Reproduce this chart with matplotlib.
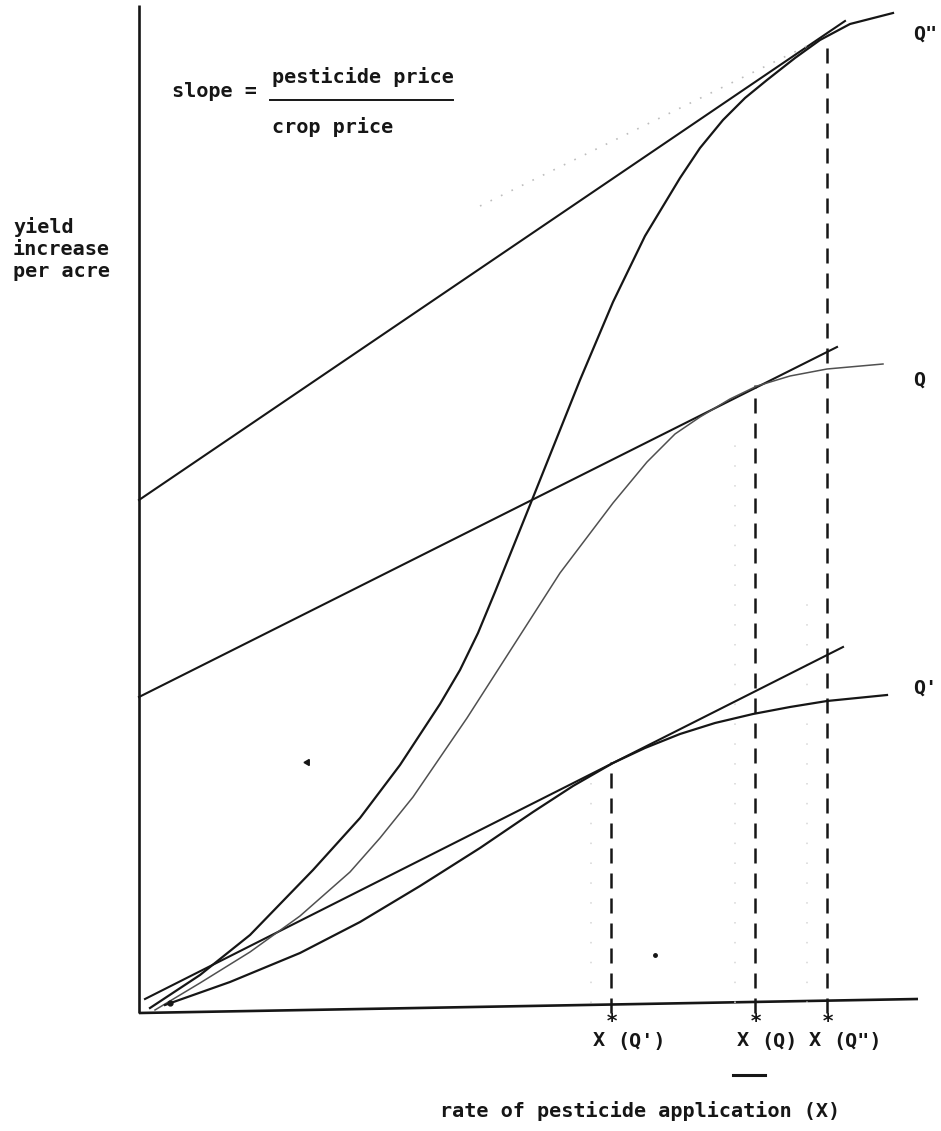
import matplotlib.pyplot as plt

# Yield response to pesticide: three response curves Q', Q, Q''
# (rate of pesticide on x, yield increase per acre on y, arbitrary units)
q2_rate = [0.11, 0.61, 1.11, 1.74, 2.21, 2.61, 3.01, 3.21, 3.39, 3.56, 3.91,
           4.41, 4.74, 5.06, 5.41, 5.61, 5.84, 6.06, 6.28, 6.56, 6.81, 7.11,
           7.54]
q2_yield = [0.05, 0.38, 0.78, 1.43, 1.95, 2.48, 3.09, 3.43, 3.80, 4.21, 5.08,
            6.33, 7.11, 7.77, 8.35, 8.65, 8.93, 9.15, 9.33, 9.55, 9.73, 9.89,
            10.00]

q_rate = [0.16, 0.61, 1.11, 1.61, 2.11, 2.41, 2.74, 3.28, 3.71, 4.21, 4.74,
          5.08, 5.36, 5.61, 5.91, 6.18, 6.51, 6.88, 7.44]
q_yield = [0.03, 0.30, 0.61, 0.97, 1.41, 1.75, 2.16, 2.95, 3.62, 4.40, 5.10,
           5.51, 5.79, 5.96, 6.14, 6.27, 6.37, 6.44, 6.49]

q1_rate = [0.26, 0.91, 1.61, 2.21, 2.81, 3.41, 3.94, 4.34, 4.74, 5.06, 5.41,
           5.76, 6.14, 6.51, 6.88, 7.48]
q1_yield = [0.08, 0.31, 0.60, 0.91, 1.27, 1.65, 2.01, 2.27, 2.50, 2.65, 2.79,
            2.90, 2.99, 3.06, 3.12, 3.18]

# price lines (start, end) for each curve
q2_line = ([0.0, 7.06], [5.13, 9.92])
q_line = ([0.0, 6.98], [3.16, 6.66])
q1_line = ([0.06, 7.04], [0.14, 3.66])
q2_line_dotted = ([3.41, 6.76], [8.07, 9.71])

# optimal rates X* and the yield at the tangency
x_star = [4.72, 6.16, 6.88]
y_star = [2.51, 6.28, 9.70]
x_star_labels = ["(Q')", "(Q)", '(Q")']

curve_labels = ['Q"', "Q", "Q'"]
curve_label_y = [9.79, 6.33, 3.25]

y_label_lines = ["yield", "increase", "per acre"]
y_label_base = [7.80, 7.58, 7.36]

ink = "#161616"
font = "DejaVu Sans Mono"

fig = plt.figure(figsize=(9.41, 11.31), dpi=100)
ax = fig.add_axes([0, 0, 1, 1])
ax.set_xlim(-1.39, 8.02)
ax.set_ylim(-1.18, 10.13)
ax.axis("off")

# axes
ax.plot([0, 0], [0, 10.08], color=ink, lw=1.9, solid_capstyle="butt")
ax.plot([0, 7.79], [0, 0.14], color=ink, lw=1.9, solid_capstyle="butt")

# faint show-through dots beside the X* guides
for xs, top in zip([4.52, 5.96, 6.68], [2.3, 5.7, 4.2]):
    ax.plot([xs, xs], [0.1, top], color="#d6d6d6", lw=1.1, ls=(0, (1, 12)))

# guides down to the optimal rates
for xs, ys in zip(x_star, y_star):
    ax.plot([xs, xs], [0, ys], color=ink, lw=1.8, ls=(0, (6, 4)))

# price lines
for xs, ys in (q2_line, q_line, q1_line):
    ax.plot(xs, ys, color=ink, lw=1.5)
ax.plot(*q2_line_dotted, color="#bdbdbd", lw=1.2, ls=(0, (1, 6)))

# response curves
ax.plot(q2_rate, q2_yield, color=ink, lw=1.6, solid_joinstyle="round")
ax.plot(q_rate, q_yield, color="#505050", lw=1.1, solid_joinstyle="round")
ax.plot(q1_rate, q1_yield, color=ink, lw=1.6, solid_joinstyle="round")

# small specks
ax.plot([0.31], [0.10], "o", color=ink, ms=3.5)
ax.plot([5.16], [0.58], "o", color=ink, ms=2.5)
ax.plot([1.68], [2.51], marker=(3, 0, -30), color=ink, ms=5)

txt = dict(family=font, fontsize=14.5, color=ink, fontweight="bold")

ax.text(0.33, 9.16, "slope =", va="baseline", **txt)
ax.text(1.33, 9.30, "pesticide price", va="baseline", **txt)
ax.plot([1.31, 3.14], [9.13, 9.13], color=ink, lw=1.4)
ax.text(1.33, 8.80, "crop price", va="baseline", **txt)

for line, base in zip(y_label_lines, y_label_base):
    ax.text(-1.26, base, line, va="baseline", **txt)

for lab, ly in zip(curve_labels, curve_label_y):
    ax.text(7.74, ly, lab, va="center", **txt)

for xs, lab in zip(x_star, x_star_labels):
    ax.text(xs - 0.18, -0.28, "X", va="center", **txt)
    ax.text(xs - 0.05, -0.09, "*", va="center", **txt)
    ax.text(xs + 0.06, -0.28, lab, va="center", **txt)

ax.plot([5.94, 6.26], [-0.62, -0.62], color=ink, lw=2.2)
ax.text(3.01, -1.04, "rate of pesticide application (X)", va="baseline", **txt)

fig.savefig("out.png", dpi=100, facecolor="white")
